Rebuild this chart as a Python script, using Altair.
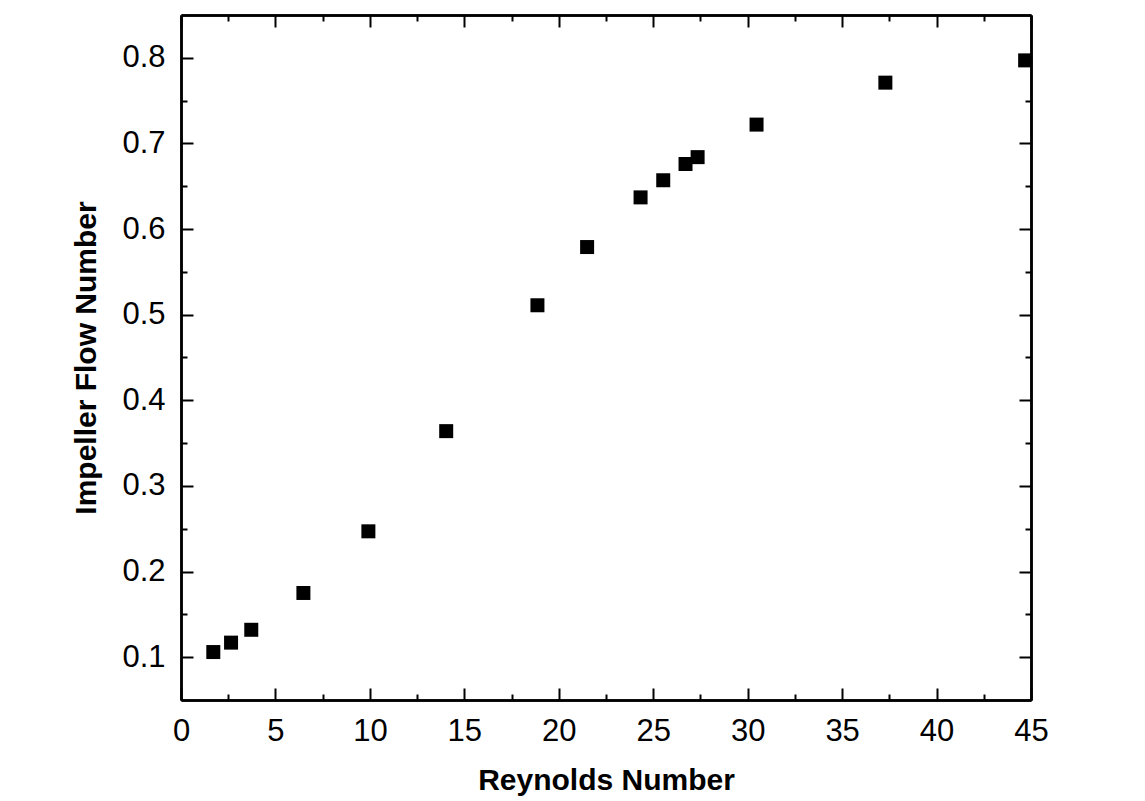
import altair as alt
import pandas as pd

reynolds = [1.71, 2.65, 3.72, 6.48, 9.92, 14.04, 18.87, 21.5, 24.33, 25.53, 26.71, 27.35, 30.47, 37.29, 44.69]
flow = [0.106, 0.117, 0.132, 0.175, 0.247, 0.364, 0.511, 0.579, 0.637, 0.657, 0.676, 0.684, 0.722, 0.771, 0.797]

x_major = [0, 5, 10, 15, 20, 25, 30, 35, 40, 45]
x_minor = [2.5, 7.5, 12.5, 17.5, 22.5, 27.5, 32.5, 37.5, 42.5]
y_major = [0.1, 0.2, 0.3, 0.4, 0.5, 0.6, 0.7, 0.8]
y_minor = [0.15, 0.25, 0.35, 0.45, 0.55, 0.65, 0.75]

df = pd.DataFrame({"Re": reynolds, "N": flow})

FONT = "Liberation Sans"
xscale = alt.Scale(domain=[0, 45], nice=False, zero=False)
yscale = alt.Scale(domain=[0.05, 0.85], nice=False, zero=False)

common = dict(grid=False, domainColor="black", domainWidth=2.5, tickColor="black",
              tickWidth=2, labelFont=FONT, labelColor="black", labelFontSize=31,
              titleFont=FONT, titleColor="black", titleFontSize=30, titleFontWeight="bold",
              labelFlush=False, labelOverlap=False)


def ax(orient, values, size, labels=False, title=None, **kw):
    args = dict(common)
    args.update(kw)
    a = dict(orient=orient, values=values, tickSize=alt.ExprRef(expr=str(-size)), labels=labels, **args)
    a["title"] = title
    return alt.Axis(**a)


main = alt.Chart(df).mark_square(size=196, color="black", opacity=1).encode(
    x=alt.X("Re:Q", scale=xscale,
            axis=ax("bottom", x_major, 12, labels=True, title="Reynolds Number",
                    labelPadding=28, titlePadding=19)),
    y=alt.Y("N:Q", scale=yscale,
            axis=ax("left", y_major, 12, labels=True, title="Impeller Flow Number",
                    labelPadding=28, titlePadding=20, format=".1f")),
)


def ghost(xo, xv, xs, yo, yv, ys):
    return alt.Chart(df).mark_square(opacity=0).encode(
        x=alt.X("Re:Q", scale=xscale, axis=ax(xo, xv, xs)),
        y=alt.Y("N:Q", scale=yscale, axis=ax(yo, yv, ys)),
    )


chart = alt.layer(
    main,
    ghost("bottom", x_minor, 6, "left", y_minor, 6),
    ghost("top", x_major, 12, "right", y_major, 12),
    ghost("top", x_minor, 6, "right", y_minor, 6),
).resolve_axis(x="independent", y="independent").properties(
    width=850, height=685,
    autosize=alt.AutoSizeParams(type="none"),
    padding={"left": 173, "top": 7, "right": 90, "bottom": 96},
).configure_view(stroke=None).configure(background="white")

chart.save("out.html", embed_options={"renderer": "svg", "actions": False})
